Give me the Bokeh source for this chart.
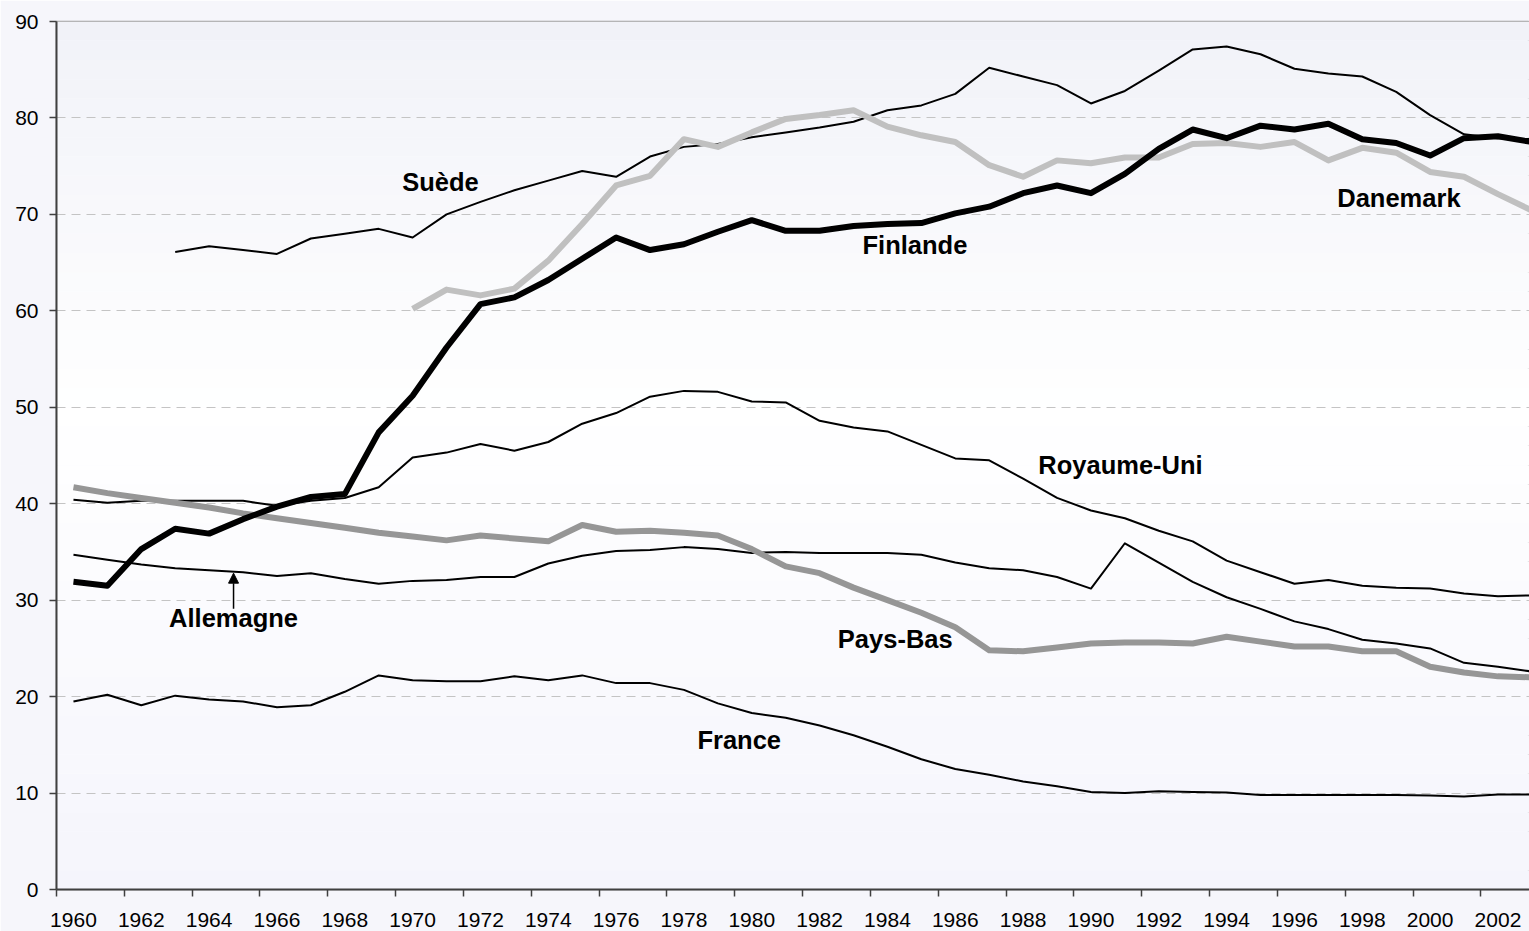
from bokeh.plotting import figure
from bokeh.models import FixedTicker, Range1d, Label, Arrow, NormalHead, BoxAnnotation
from bokeh.embed import file_html
from bokeh.resources import INLINE

# ---------------- data ----------------
years = list(range(1960, 2004))

france = [19.5, 20.2, 19.1, 20.1, 19.7, 19.5, 18.9, 19.1, 20.5, 22.2,
          21.7, 21.6, 21.6, 22.1, 21.7, 22.2, 21.4, 21.4, 20.7, 19.3,
          18.3, 17.8, 17.0, 16.0, 14.8, 13.5, 12.5, 11.9, 11.2, 10.7,
          10.1, 10.0, 10.2, 10.1, 10.05, 9.8, 9.8, 9.8, 9.8, 9.8,
          9.75, 9.65, 9.85, 9.85]

allemagne = [34.7, 34.2, 33.7, 33.3, 33.1, 32.9, 32.5, 32.8, 32.2, 31.7,
             32.0, 32.1, 32.4, 32.4, 33.8, 34.6, 35.1, 35.2, 35.5, 35.3,
             34.9, 35.0, 34.9, 34.9, 34.9, 34.7, 33.9, 33.3, 33.1, 32.4,
             31.2, 35.9, 33.9, 31.9, 30.3, 29.1, 27.8, 27.0, 25.9, 25.5,
             25.0, 23.5, 23.1, 22.6]

royaume_uni = [40.4, 40.1, 40.3, 40.3, 40.3, 40.3, 39.8, 40.3, 40.6, 41.7,
               44.8, 45.3, 46.2, 45.5, 46.4, 48.3, 49.4, 51.1, 51.7, 51.6,
               50.6, 50.5, 48.6, 47.9, 47.5, 46.1, 44.7, 44.5, 42.6, 40.6,
               39.3, 38.5, 37.2, 36.1, 34.1, 32.9, 31.7, 32.1, 31.5, 31.3,
               31.2, 30.7, 30.4, 30.5]

pays_bas = [41.7, 41.1, 40.6, 40.1, 39.6, 39.0, 38.5, 38.0, 37.5, 37.0,
            36.6, 36.2, 36.7, 36.4, 36.1, 37.8, 37.1, 37.2, 37.0, 36.7,
            35.3, 33.5, 32.8, 31.3, 30.0, 28.7, 27.2, 24.8, 24.7, 25.1,
            25.5, 25.6, 25.6, 25.5, 26.2, 25.7, 25.2, 25.2, 24.7, 24.7,
            23.1, 22.5, 22.1, 22.0]

finlande = [31.9, 31.5, 35.3, 37.4, 36.9, 38.4, 39.7, 40.7, 41.0, 47.4,
            51.2, 56.2, 60.7, 61.4, 63.2, 65.4, 67.6, 66.3, 66.9, 68.2,
            69.4, 68.3, 68.3, 68.8, 69.0, 69.1, 70.1, 70.8, 72.2, 73.0,
            72.2, 74.2, 76.8, 78.8, 77.9, 79.2, 78.8, 79.4, 77.8, 77.4,
            76.1, 77.9, 78.1, 77.5]

suede_years = list(range(1963, 2004))
suede = [66.1, 66.7, 66.3, 65.9, 67.5, 68.0, 68.5,
         67.6, 70.0, 71.3, 72.5, 73.5, 74.5, 73.9, 76.0, 77.0, 77.3,
         78.0, 78.5, 79.0, 79.6, 80.8, 81.3, 82.5, 85.2, 84.3, 83.4,
         81.5, 82.8, 84.9, 87.1, 87.4, 86.6, 85.1, 84.6, 84.3, 82.7,
         80.3, 78.3, 77.9, 77.8]

danemark_years = list(range(1970, 2004))
danemark = [60.2, 62.2, 61.6, 62.3, 65.2, 69.0, 73.0, 74.0, 77.8, 77.0,
            78.5, 79.9, 80.3, 80.8, 79.1, 78.2, 77.5, 75.1, 73.9, 75.6,
            75.3, 75.9, 75.9, 77.3, 77.4, 77.0, 77.5, 75.6, 76.9, 76.4,
            74.4, 73.9, 72.1, 70.4]

tick_years = list(range(1960, 2003, 2))
tick_labels = [str(y) for y in tick_years]
y_ticks = list(range(0, 91, 10))

label_names = ["Suède", "Finlande", "Danemark", "Royaume-Uni", "Pays-Bas", "France", "Allemagne"]
label_x = [1970.82, 1984.81, 1999.08, 1990.87, 1984.23, 1979.63, 1964.72]
label_y = [73.4, 66.8, 71.75, 44.0, 26.0, 15.45, 28.2]

arrow_x = 1964.72
arrow_from = 29.1
arrow_to = 32.8

# ---------------- figure ----------------
FONT = "Liberation Sans"
p = figure(width=1529, height=931, output_backend="svg", toolbar_location=None,
           x_range=Range1d(1959.5, 2002.93), y_range=Range1d(0, 90),
           min_border_left=56, min_border_right=0, min_border_top=21, min_border_bottom=42)

p.background_fill_color = "#FCFCFE"
p.border_fill_color = "#F6F6FB"
p.outline_line_color = "#A0A0A0"
p.outline_line_width = 1.5

# soft vertical gradient in the plot area
top_c = (241, 242, 248)
mid_c = (255, 255, 255)
bot_c = (245, 245, 252)
nb = 45
for i in range(nb):
    y0 = 90 * i / nb
    y1 = 90 * (i + 1) / nb
    f = 1 - (y0 + y1) / 2 / 90  # 0 top, 1 bottom
    if f < 0.45:
        t = f / 0.45
        c = tuple(int(round(top_c[k] + (mid_c[k] - top_c[k]) * t)) for k in range(3))
    else:
        t = (f - 0.45) / 0.55
        c = tuple(int(round(mid_c[k] + (bot_c[k] - mid_c[k]) * t)) for k in range(3))
    p.add_layout(BoxAnnotation(bottom=y0, top=y1, fill_color="#%02x%02x%02x" % c,
                               fill_alpha=1, line_alpha=0, level="image"))

p.xgrid.visible = False
p.ygrid.ticker = FixedTicker(ticks=y_ticks[1:-1])
p.ygrid.grid_line_color = "#C4C4C4"
p.ygrid.grid_line_dash = "9 6"
p.ygrid.grid_line_width = 1

for ax in (p.xaxis[0], p.yaxis[0]):
    ax.axis_line_color = "#404040"
    ax.axis_line_width = 2
    ax.major_label_text_font = FONT
    ax.major_label_text_font_size = "21px"
    ax.major_label_text_color = "#000000"
    ax.major_tick_line_color = "#404040"
    ax.minor_tick_line_color = "#404040"
    ax.major_tick_line_width = 1.5
    ax.minor_tick_line_width = 1.5

p.xaxis.ticker = FixedTicker(ticks=tick_years, minor_ticks=[y - 0.5 for y in tick_years])
p.xaxis.major_label_overrides = {y: l for y, l in zip(tick_years, tick_labels)}
p.xaxis.major_tick_out = 0
p.xaxis.major_tick_in = 0
p.xaxis.minor_tick_out = 7
p.xaxis.minor_tick_in = 0
p.xaxis.major_label_standoff = 16

p.yaxis.ticker = FixedTicker(ticks=y_ticks)
p.yaxis.major_tick_out = 7
p.yaxis.major_tick_in = 0
p.yaxis.minor_tick_out = 0
p.yaxis.minor_tick_in = 0
p.yaxis.major_label_standoff = 11

# ---------------- series ----------------
thin = dict(line_color="#000000", line_width=2, line_join="round")
p.line(years, france, **thin)
p.line(years, allemagne, **thin)
p.line(years, royaume_uni, **thin)
p.line(suede_years, suede, **thin)
p.line(years, pays_bas, line_color="#969696", line_width=6, line_join="round")
p.line(danemark_years, danemark, line_color="#C0C0C0", line_width=6, line_join="round")
p.line(years, finlande, line_color="#000000", line_width=6, line_join="round")

# ---------------- labels ----------------
for name, lx, ly in zip(label_names, label_x, label_y):
    p.add_layout(Label(x=lx, y=ly, text=name, text_font=FONT, text_font_size="25.5px",
                       text_font_style="bold", text_color="#000000",
                       text_align="center", text_baseline="middle"))

p.add_layout(Arrow(end=NormalHead(size=10, fill_color="#000000", line_color="#000000"),
                   x_start=arrow_x, y_start=arrow_from, x_end=arrow_x, y_end=arrow_to,
                   line_color="#000000", line_width=1.5))

open("out.html", "w").write(file_html(p, INLINE))
